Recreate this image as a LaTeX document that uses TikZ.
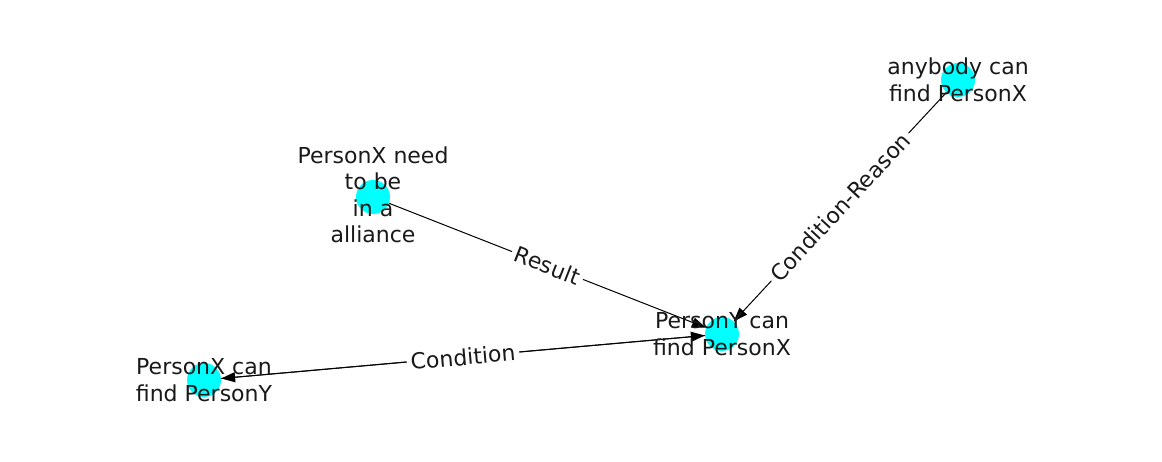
\documentclass[tikz,border=0pt]{standalone}
\usepackage{fontspec}
\setmainfont{DejaVu Sans}
\usetikzlibrary{arrows.meta}
\definecolor{nodecyan}{RGB}{0,255,255}
\tikzset{
  dot/.style={circle,fill=nodecyan,draw=none,minimum size=34pt,inner sep=0pt},
  txt/.style={align=center,font=\fontsize{22}{26.5}\selectfont,text=black!90,inner sep=0pt},
  edge/.style={line width=1pt,-{Triangle[length=14pt,width=10pt]}},
  elabel/.style={fill=white,sloped,pos=0.5,inner sep=4pt,font=\fontsize{22}{24}\selectfont,text=black!90}
}
\begin{document}
\begin{tikzpicture}[x=1pt,y=1pt]
\useasboundingbox (0,0) rectangle (1162,462);
\node[dot] (a) at (958,382) {};
\node[dot] (b) at (373,265) {};
\node[dot] (c) at (722,128) {};
\node[dot] (d) at (204,82) {};
\draw[edge] (a) -- node[elabel] {Condition-Reason} (c);
\draw[edge] (b) -- node[elabel] {Result} (c);
\draw[edge] (c) -- (d);
\draw[edge] (d) -- node[elabel] {Condition} (c);
\node[txt] (at) at (958,382) {anybody can\\find PersonX};
\node[txt] (bt) at (373,267) {PersonX need\\to be\\in a\\alliance};
\node[txt] (ct) at (722,128) {PersonY can\\find PersonX};
\node[txt] (dt) at (204,82) {PersonX can\\find PersonY};
\end{tikzpicture}
\end{document}
